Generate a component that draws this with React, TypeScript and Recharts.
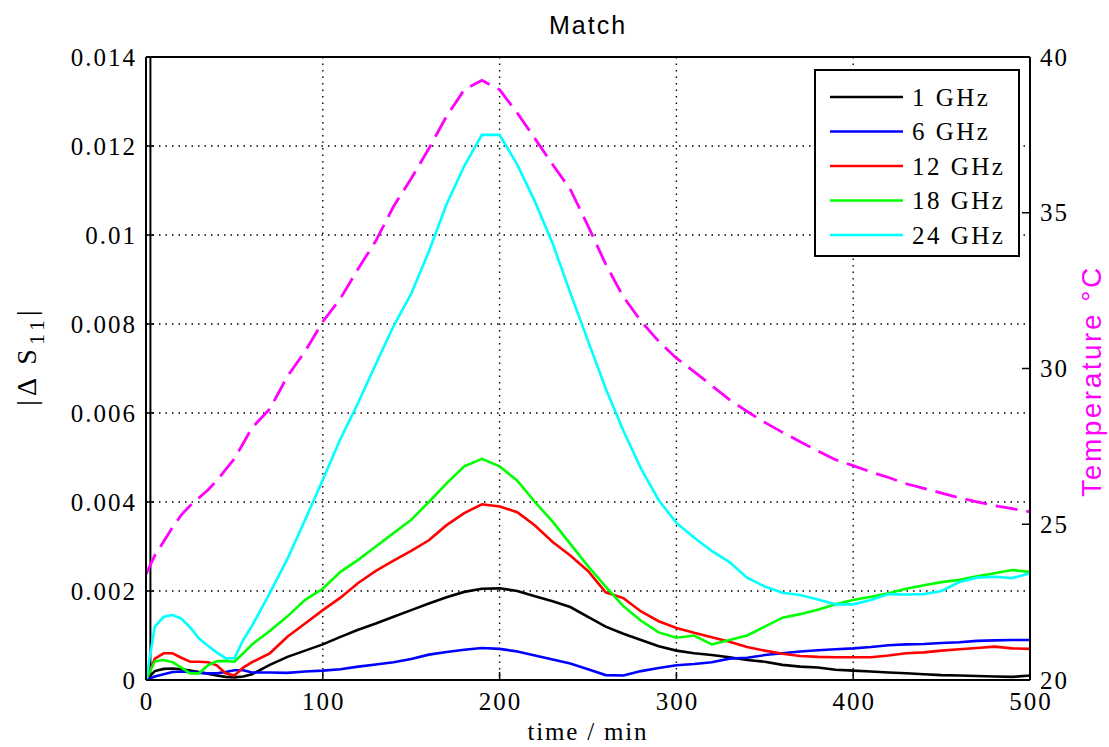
import { LineChart, Line, XAxis, YAxis, CartesianGrid, ReferenceLine } from 'recharts'

/* ---------- data ---------- */

const TIME = [0, 5, 10, 15, 20, 25, 30, 35, 40, 45, 50, 55, 60,
  70, 80, 90, 100, 110, 120, 130, 140, 150, 160, 170, 180, 190, 200,
  210, 220, 230, 240, 250, 260, 270, 280, 290, 300, 310, 320, 330, 340,
  350, 360, 370, 380, 390, 400, 410, 420, 430, 440, 450, 460, 470, 480, 490, 500]

const GHZ_1 = [0, 0.0002, 0.00025, 0.00026, 0.00024, 0.00021, 0.00018, 0.00014, 0.0001, 0.00007, 0.00006, 0.00008, 0.00013,
  0.00034, 0.00052, 0.00066, 0.0008, 0.00097, 0.00113, 0.00127, 0.00142, 0.00157, 0.00172, 0.00186, 0.00198, 0.00205, 0.00206,
  0.002, 0.00188, 0.00177, 0.00164, 0.00142, 0.0012, 0.00104, 0.0009, 0.00076, 0.00066, 0.0006, 0.00056, 0.00051, 0.00045,
  0.00041, 0.00034, 0.0003, 0.00028, 0.00023, 0.00021, 0.00019, 0.00017, 0.00015, 0.00013, 0.00011, 0.0001, 0.00009, 0.00008, 0.00007, 0.0001]

const GHZ_6 = [0, 0.00008, 0.00013, 0.00018, 0.00019, 0.00018, 0.00016, 0.00015, 0.00015, 0.00018, 0.00022, 0.00022, 0.00017,
  0.00017, 0.00016, 0.00019, 0.00021, 0.00024, 0.0003, 0.00035, 0.0004, 0.00047, 0.00057, 0.00063, 0.00068, 0.00072, 0.0007,
  0.00064, 0.00055, 0.00046, 0.00037, 0.00024, 0.00011, 0.0001, 0.0002, 0.00027, 0.00033, 0.00036, 0.0004, 0.00048, 0.0005,
  0.00056, 0.0006, 0.00064, 0.00067, 0.00069, 0.00071, 0.00074, 0.00078, 0.0008, 0.00081, 0.00083, 0.00085, 0.00088, 0.00089, 0.0009, 0.0009]

const GHZ_12 = [0, 0.00048, 0.0006, 0.0006, 0.0005, 0.00041, 0.00041, 0.0004, 0.00033, 0.00015, 0.0001, 0.00028, 0.0004,
  0.0006, 0.00097, 0.00127, 0.00157, 0.00185, 0.00218, 0.00245, 0.00268, 0.0029, 0.00314, 0.00348, 0.00375, 0.00395, 0.0039,
  0.00377, 0.00347, 0.0031, 0.0028, 0.00245, 0.00197, 0.00184, 0.00154, 0.00132, 0.00117, 0.00106, 0.00096, 0.00086, 0.00074,
  0.00066, 0.00059, 0.00054, 0.00052, 0.00051, 0.00051, 0.00051, 0.00055, 0.0006, 0.00062, 0.00066, 0.00069, 0.00072, 0.00075, 0.00071, 0.0007]

const GHZ_18 = [0, 0.00042, 0.00045, 0.0004, 0.00028, 0.00015, 0.00015, 0.00033, 0.00042, 0.00043, 0.00041, 0.0006, 0.0008,
  0.0011, 0.00143, 0.0018, 0.00205, 0.00243, 0.0027, 0.003, 0.0033, 0.0036, 0.004, 0.00442, 0.0048, 0.00497, 0.0048,
  0.00448, 0.004, 0.00356, 0.00306, 0.00256, 0.0021, 0.00166, 0.00133, 0.00107, 0.00095, 0.001, 0.0008, 0.0009, 0.001,
  0.0012, 0.0014, 0.00148, 0.00158, 0.0017, 0.0018, 0.00187, 0.00195, 0.00205, 0.00213, 0.0022, 0.00225, 0.00233, 0.0024, 0.00247, 0.00243]

const GHZ_24 = [0, 0.0012, 0.00142, 0.00146, 0.00138, 0.00118, 0.00093, 0.00077, 0.00062, 0.00049, 0.00049, 0.0009, 0.00122,
  0.00195, 0.00272, 0.0036, 0.0045, 0.00542, 0.00623, 0.0071, 0.00795, 0.00868, 0.00963, 0.01069, 0.01155, 0.01225, 0.01225,
  0.01158, 0.01075, 0.00981, 0.0087, 0.00762, 0.00655, 0.0056, 0.00475, 0.00404, 0.00353, 0.0032, 0.0029, 0.00265, 0.0023,
  0.0021, 0.00196, 0.00191, 0.00181, 0.0017, 0.0017, 0.0018, 0.00193, 0.00192, 0.00193, 0.002, 0.0022, 0.0023, 0.00232, 0.00229, 0.0024]

const TEMP = [23.4, 24.0, 24.45, 24.9, 25.3, 25.6, 25.85, 26.1, 26.4, 26.75, 27.1, 27.6, 28.1,
  28.7, 29.75, 30.55, 31.5, 32.25, 33.2, 34.1, 35.2, 36.1, 37.06, 38.1, 38.95, 39.25, 38.95,
  38.2, 37.38, 36.55, 35.75, 34.58, 33.35, 32.3, 31.52, 30.87, 30.33, 29.9, 29.45, 29.0, 28.62,
  28.27, 27.95, 27.65, 27.35, 27.07, 26.88, 26.68, 26.5, 26.3, 26.15, 26.0, 25.85, 25.72, 25.6, 25.5, 25.4]

const X_TICKS = [0, 100, 200, 300, 400, 500]
const S11_TICKS = [0, 0.002, 0.004, 0.006, 0.008, 0.01, 0.012, 0.014]
const TEMP_TICKS = [20, 25, 30, 35, 40]

const SERIES = [
  { key: 'f1', name: '1 GHz', color: '#000000', values: GHZ_1 },
  { key: 'f6', name: '6 GHz', color: '#0000ff', values: GHZ_6 },
  { key: 'f12', name: '12 GHz', color: '#ff0000', values: GHZ_12 },
  { key: 'f18', name: '18 GHz', color: '#00ff00', values: GHZ_18 },
  { key: 'f24', name: '24 GHz', color: '#00ffff', values: GHZ_24 },
]

const rows = TIME.map((t, i) => {
  const r: Record<string, number> = { t, temp: TEMP[i] }
  SERIES.forEach(s => { r[s.key] = s.values[i] })
  return r
})

/* ---------- look ---------- */

const W = 1109
const H = 747
const SERIF = '"Liberation Serif", "Times New Roman", serif'
const SANS = '"Liberation Sans", Arial, sans-serif'
const TICK_TXT = { fontFamily: SERIF, fontSize: 25, letterSpacing: 2, fill: '#000' }

const fmtS11 = (n: number) => String(+n.toFixed(3))

function LeftTick({ x, y, payload }: any) {
  return (
    <g>
      <line x1={x} x2={x + 8} y1={y} y2={y} stroke="#000" strokeWidth={1.5} />
      <text x={x - 9} y={y} textAnchor="end" dominantBaseline="central" {...TICK_TXT}>{fmtS11(payload.value)}</text>
    </g>
  )
}

function RightTick({ x, y, payload }: any) {
  return (
    <g>
      <line x1={x - 8} x2={x} y1={y} y2={y} stroke="#000" strokeWidth={1.5} />
      <text x={x + 10} y={y} textAnchor="start" dominantBaseline="central" {...TICK_TXT}>{payload.value}</text>
    </g>
  )
}

function BottomTick({ x, y, payload }: any) {
  return (
    <g>
      <line x1={x} x2={x} y1={y} y2={y - 8} stroke="#000" strokeWidth={1.5} />
      <text x={x + 1} y={y + 21} textAnchor="middle" dominantBaseline="central" {...TICK_TXT}>{payload.value}</text>
    </g>
  )
}

export default function App() {
  return (
    <div style={{ position: 'absolute', left: 0, top: 0, width: W, height: H, background: '#fff' }}>
      <LineChart width={W} height={H} data={rows} margin={{ top: 57, right: 0, bottom: 0, left: 0 }}>
        <CartesianGrid yAxisId="left" stroke="#000" strokeDasharray="1.5 5" strokeWidth={1.4} />
        <XAxis
          type="number" dataKey="t" domain={[0, 500]} ticks={X_TICKS} height={67}
          tickSize={0} tickMargin={0} tick={BottomTick} tickLine={false}
          axisLine={{ stroke: '#000', strokeWidth: 2 }}
        />
        <YAxis
          yAxisId="left" orientation="left" domain={[0, 0.014]} ticks={S11_TICKS} width={146}
          tickSize={0} tickMargin={0} tick={LeftTick} tickLine={false}
          axisLine={{ stroke: '#000', strokeWidth: 2 }} allowDataOverflow
        />
        <YAxis
          yAxisId="right" orientation="right" domain={[20, 40]} ticks={TEMP_TICKS} width={79}
          tickSize={0} tickMargin={0} tick={RightTick} tickLine={false}
          axisLine={{ stroke: '#000', strokeWidth: 2 }} allowDataOverflow
        />
        <ReferenceLine yAxisId="left" y={0.014} stroke="#000" strokeWidth={2} />
        <ReferenceLine yAxisId="left" x={2.5} stroke="#000" strokeWidth={2} />
        {SERIES.map(s => (
          <Line
            key={s.key} yAxisId="left" type="linear" dataKey={s.key} name={s.name}
            stroke={s.color} strokeWidth={2.6} dot={false} isAnimationActive={false}
          />
        ))}
        <Line
          yAxisId="right" type="linear" dataKey="temp" stroke="#ff00ff" strokeWidth={2.8}
          strokeDasharray="22 9" dot={false} isAnimationActive={false}
        />
      </LineChart>

      {/* title, axis labels, legend */}
      <svg width={W} height={H} style={{ position: 'absolute', left: 0, top: 0, pointerEvents: 'none' }}>
        <text x={588} y={34} textAnchor="middle" fontFamily={SANS} fontSize={25} letterSpacing={2} fill="#000">Match</text>
        <text x={588} y={740} textAnchor="middle" {...TICK_TXT} letterSpacing={1.8}>time / min</text>
        <text transform="translate(36,356) rotate(-90)" textAnchor="middle" {...TICK_TXT} fontSize={28} letterSpacing={4}>
          |Δ S<tspan fontSize={22} dy={8}>11</tspan><tspan dy={-8}>|</tspan>
        </text>
        <text transform="translate(1101,381) rotate(-90)" textAnchor="middle" fontFamily={SANS} fontSize={28} letterSpacing={2.5} fill="#ff00ff">
          Temperature °C
        </text>
        <rect x={815} y={70} width={204} height={186} fill="#fff" stroke="#000" strokeWidth={2} />
        {SERIES.map((s, i) => {
          const y = 97 + i * 34.5
          return (
            <g key={s.key}>
              <line x1={830} x2={903} y1={y} y2={y} stroke={s.color} strokeWidth={2.6} />
              <text x={912} y={y} dominantBaseline="central" {...TICK_TXT} letterSpacing={2.5}>{s.name}</text>
            </g>
          )
        })}
      </svg>
    </div>
  )
}
